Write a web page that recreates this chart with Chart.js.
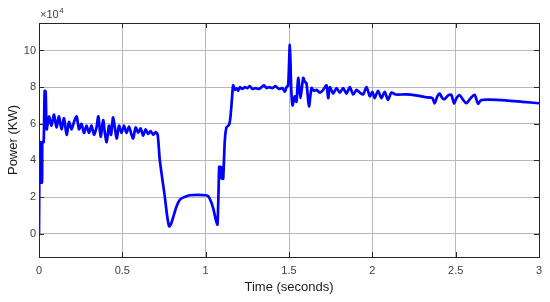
<!DOCTYPE html>
<html>
<head>
<meta charset="utf-8">
<script src="https://cdn.jsdelivr.net/npm/chart.js@4"></script>
<style>
  body { margin: 0; background: #fff; }
  canvas { display: block; }
</style>
</head>
<body>
<canvas id="powerChart" width="550" height="302"></canvas>
<script>
// time in seconds
const timeS = [
  0, 0.004, 0.008, 0.010, 0.018, 0.020, 0.028, 0.034, 0.040, 0.046,
  0.060, 0.075, 0.090, 0.105, 0.120, 0.135, 0.150, 0.166, 0.180, 0.195,
  0.210, 0.226, 0.240, 0.255, 0.270, 0.285, 0.300, 0.315, 0.330, 0.345,
  0.356, 0.370, 0.385, 0.395, 0.406, 0.420, 0.432, 0.445, 0.466, 0.480,
  0.495, 0.510, 0.525, 0.540, 0.552, 0.565, 0.580, 0.595, 0.610, 0.625,
  0.640, 0.655, 0.670, 0.685, 0.700, 0.712, 0.725, 0.755, 0.770, 0.781,
  0.793, 0.805, 0.820, 0.835, 0.850, 0.865, 0.885, 0.905, 0.950, 1.000,
  1.015, 1.030, 1.045, 1.060, 1.071, 1.081, 1.085, 1.090, 1.095, 1.100,
  1.105, 1.115, 1.125, 1.141, 1.150, 1.158, 1.165, 1.175, 1.185, 1.195,
  1.205, 1.220, 1.235, 1.250, 1.265, 1.280, 1.300, 1.320, 1.350, 1.365,
  1.380, 1.400, 1.420, 1.440, 1.460, 1.475, 1.485, 1.495, 1.505, 1.513,
  1.521, 1.535, 1.545, 1.555, 1.569, 1.585, 1.595, 1.605, 1.620, 1.635,
  1.650, 1.665, 1.685, 1.705, 1.725, 1.735, 1.745, 1.765, 1.785, 1.805,
  1.825, 1.845, 1.865, 1.885, 1.905, 1.925, 1.945, 1.965, 1.985, 2.000,
  2.014, 2.034, 2.055, 2.074, 2.094, 2.114, 2.140, 2.200, 2.260, 2.320,
  2.360, 2.374, 2.390, 2.404, 2.420, 2.434, 2.455, 2.474, 2.490, 2.505,
  2.524, 2.545, 2.564, 2.590, 2.614, 2.634, 2.654, 2.700, 2.800, 2.900,
  3.000
];

// power in units of 10^4 KW
const power = [
  0, 4.9, 5.0, 2.8, 2.8, 5.0, 5.0, 7.8, 7.75, 5.7,
  6.4, 5.9, 6.5, 5.8, 6.4, 5.7, 6.3, 5.4, 6.1, 5.7,
  6.1, 6.4, 5.7, 6.0, 5.5, 5.9, 5.5, 5.9, 5.4, 5.8,
  6.4, 5.3, 6.2, 5.5, 5.0, 5.9, 5.4, 6.35, 5.2, 5.9,
  5.5, 5.9, 5.5, 5.85, 5.5, 5.2, 5.8, 5.5, 5.75, 5.35,
  5.7, 5.45, 5.6, 5.4, 5.55, 5.4, 4.0, 2.0, 0.9, 0.4,
  0.55, 0.9, 1.35, 1.7, 1.9, 1.97, 2.05, 2.1, 2.12, 2.1,
  2.05, 1.8, 1.4, 0.8, 0.5, 3.65, 3.0, 3.65, 3.0, 3.65,
  3.0, 5.1, 5.8, 5.95, 6.5, 7.4, 8.1, 7.85, 7.95, 7.8,
  8.0, 7.9, 8.0, 7.95, 8.05, 7.9, 7.95, 7.9, 8.1, 7.95,
  8.0, 7.95, 8.05, 7.9, 7.95, 7.75, 8.0, 8.1, 10.3, 8.0,
  7.0, 7.5, 7.2, 8.5, 7.4, 8.5, 8.3, 8.2, 6.95, 7.95,
  7.8, 7.85, 7.7, 7.85, 8.1, 7.4, 8.0, 7.65, 7.95, 7.7,
  7.95, 7.65, 8.0, 7.6, 7.85, 7.7, 7.6, 8.0, 7.5, 7.75,
  7.4, 7.8, 7.4, 7.75, 7.3, 7.7, 7.6, 7.6, 7.55, 7.45,
  7.4, 7.12, 7.5, 7.65, 7.4, 7.35, 7.55, 7.58, 7.12, 7.4,
  7.56, 7.3, 7.12, 7.4, 7.58, 7.1, 7.3, 7.32, 7.28, 7.2,
  7.12
];

const xTicks = [0, 0.5, 1, 1.5, 2, 2.5, 3];
const yTicks = [0, 2, 4, 6, 8, 10];

const FONT = '"Liberation Sans", Arial, Helvetica, sans-serif';
const AXIS_COLOR = '#262626';
const LABEL_COLOR = '#404040';

// box, inner tick marks and the text around the axes
const matlabFrame = {
    id: 'matlabFrame',
    afterDraw(chart) {
        const { ctx, chartArea: a, scales } = chart;
        ctx.save();
        ctx.strokeStyle = AXIS_COLOR;
        ctx.lineWidth = 1;
        ctx.beginPath();
        xTicks.forEach(v => {
            const x = Math.round(scales.x.getPixelForValue(v)) + 0.5;
            ctx.moveTo(x, a.bottom); ctx.lineTo(x, a.bottom - 5);
            ctx.moveTo(x, a.top); ctx.lineTo(x, a.top + 5);
        });
        yTicks.forEach(v => {
            const y = Math.round(scales.y.getPixelForValue(v)) + 0.5;
            ctx.moveTo(a.left, y); ctx.lineTo(a.left + 5, y);
            ctx.moveTo(a.right, y); ctx.lineTo(a.right - 5, y);
        });
        ctx.stroke();
        ctx.strokeRect(Math.round(a.left) + 0.5, Math.round(a.top) + 0.5,
            Math.round(a.right - a.left), Math.round(a.bottom - a.top));

        ctx.fillStyle = LABEL_COLOR;
        ctx.textBaseline = 'middle';

        // exponent label
        ctx.textAlign = 'left';
        ctx.font = '11px ' + FONT;
        ctx.fillText('\u00d710', a.left + 1, 15);
        const w = ctx.measureText('\u00d710').width;
        ctx.font = '8px ' + FONT;
        ctx.fillText('4', a.left + 1 + w + 0.5, 11);

        // axis titles
        ctx.fillStyle = '#1a1a1a';
        ctx.font = '13px ' + FONT;
        ctx.textAlign = 'center';
        ctx.fillText('Time (seconds)', (a.left + a.right) / 2, 287);
        ctx.translate(13, (a.top + a.bottom) / 2);
        ctx.rotate(-Math.PI / 2);
        ctx.fillText('Power (KW)', 0, 0);
        ctx.restore();
    }
};

new Chart(document.getElementById('powerChart'), {
    type: 'line',
    data: {
        datasets: [{
            label: 'Power',
            data: timeS.map((t, i) => ({ x: t, y: power[i] })),
            borderColor: '#0000ff',
            borderWidth: 2.7,
            pointRadius: 0,
            tension: 0.25,
            fill: false
        }]
    },
    options: {
        responsive: false,
        animation: false,
        layout: { padding: { top: 23, right: 11, left: 0, bottom: 0 } },
        plugins: { legend: { display: false }, tooltip: { enabled: false } },
        scales: {
            x: {
                type: 'linear',
                min: 0,
                max: 3,
                afterBuildTicks: s => { s.ticks = xTicks.map(v => ({ value: v })); },
                afterFit: s => { s.height = 45; },
                grid: { color: '#b8b8b8', drawTicks: false },
                border: { display: false },
                ticks: {
                    padding: 7,
                    color: LABEL_COLOR,
                    font: { family: FONT, size: 11 },
                    maxRotation: 0,
                    callback: v => String(v)
                }
            },
            y: {
                type: 'linear',
                min: -1.27,
                max: 11.5,
                afterBuildTicks: s => { s.ticks = yTicks.map(v => ({ value: v })); },
                afterFit: s => { s.width = 39; },
                grid: { color: '#b8b8b8', drawTicks: false },
                border: { display: false },
                ticks: {
                    padding: 3,
                    color: LABEL_COLOR,
                    font: { family: FONT, size: 11 },
                    callback: v => String(v)
                }
            }
        }
    },
    plugins: [matlabFrame]
});
</script>
</body>
</html>
